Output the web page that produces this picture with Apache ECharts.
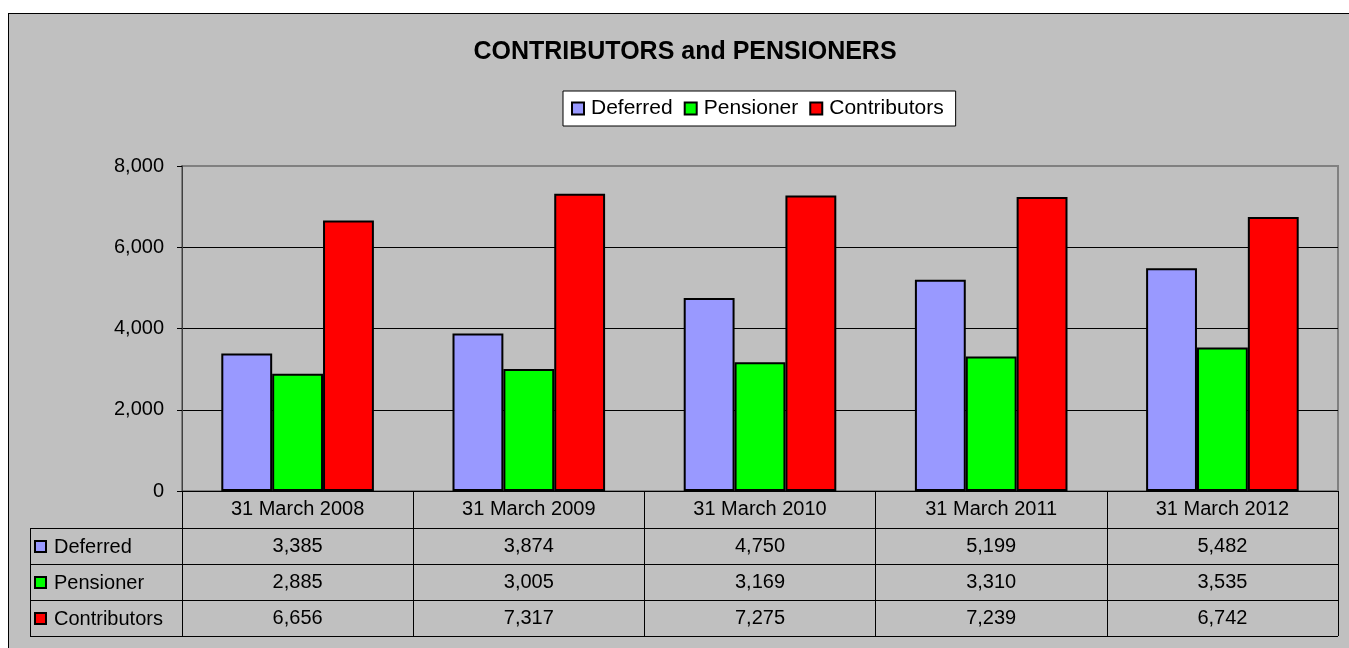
<!DOCTYPE html>
<html>
<head>
<meta charset="utf-8">
<script src="https://cdn.jsdelivr.net/npm/echarts@6/dist/echarts.min.js"></script>
<style>
  html, body { margin: 0; padding: 0; background: #ffffff; width: 1349px; height: 648px; overflow: hidden; }
  #bg { position: absolute; left: 8px; top: 13px; right: 0; bottom: 0; background: #C0C0C0; border-left: 1px solid #000; border-top: 1px solid #000; }
  #chart { position: absolute; left: 0; top: 0; width: 1349px; height: 648px; }
</style>
</head>
<body>
<div id="bg"></div>
<div id="chart"></div>
<script>
const categories = ['31 March 2008', '31 March 2009', '31 March 2010', '31 March 2011', '31 March 2012'];
const deferred = [3385, 3874, 4750, 5199, 5482];
const pensioner = [2885, 3005, 3169, 3310, 3535];
const contributors = [6656, 7317, 7275, 7239, 6742];
const seriesNames = ['Deferred', 'Pensioner', 'Contributors'];
const seriesColors = ['#9999FF', '#00FF00', '#FF0000'];
const yTicks = { min: 0, max: 8000, interval: 2000 };

const FONT = '"Liberation Sans", Arial, sans-serif';
const fmt = v => Number(v).toLocaleString('en-US');

const chart = echarts.init(document.getElementById('chart'), null, { renderer: 'canvas' });
const seriesData = [deferred, pensioner, contributors];

const option = {
  backgroundColor: 'transparent',
  animation: false,
  title: {
    text: 'CONTRIBUTORS and PENSIONERS',
    left: 680, top: 35, textAlign: 'center',
    textStyle: { fontFamily: FONT, fontSize: 25, fontWeight: 'bold', color: '#000' }
  },
  legend: {
    data: seriesNames,
    left: 563, top: 91,
    backgroundColor: '#ffffff', borderColor: '#000', borderWidth: 1,
    padding: [7, 12, 7, 8],
    itemGap: 11, itemWidth: 12, itemHeight: 12, icon: 'rect',
    itemStyle: { borderColor: '#000', borderWidth: 2 },
    textStyle: { fontFamily: FONT, fontSize: 21, color: '#000', padding: [0, 0, 0, 2] },
    selectedMode: false
  },
  grid: {
    left: 182, right: 11, top: 166, bottom: 157,
    show: true, backgroundColor: '#C0C0C0', borderColor: '#808080', borderWidth: 2
  },
  xAxis: {
    type: 'category', data: categories, boundaryGap: true,
    axisLine: { show: true, lineStyle: { color: '#000', width: 1 } },
    axisTick: { show: true, interval: 0, length: 145, inside: false, lineStyle: { color: '#000', width: 1 } },
    axisLabel: { interval: 0, margin: 8, fontFamily: FONT, fontSize: 20, color: '#000' },
    splitLine: { show: false }
  },
  yAxis: {
    type: 'value', min: yTicks.min, max: yTicks.max, interval: yTicks.interval,
    axisLine: { show: true, lineStyle: { color: '#404040', width: 1 } },
    axisTick: { show: true, length: 5, lineStyle: { color: '#000' } },
    axisLabel: { margin: 18, fontFamily: FONT, fontSize: 20, color: '#000', formatter: v => fmt(v) },
    splitLine: { show: true, showMaxLine: false, lineStyle: { color: '#000', width: 1 } }
  },
  series: seriesNames.map((name, i) => ({
    name, type: 'bar', data: seriesData[i],
    barGap: '0%', barCategoryGap: '34%',
    itemStyle: { color: seriesColors[i], borderColor: '#000', borderWidth: 2 }
  }))
};
chart.setOption(option);

// Data table below the axis
const rowTops = [528, 564, 600];
const rowH = 36;
const tableLeft = 30;
const gridRight = 1349 - 11;
const graphics = [];
[528, 564, 600, 636].forEach(y => {
  graphics.push({ type: 'line', shape: { x1: tableLeft, y1: y + 0.5, x2: gridRight, y2: y + 0.5 }, style: { stroke: '#000', lineWidth: 1 }, silent: true });
});
graphics.push({ type: 'line', shape: { x1: tableLeft + 0.5, y1: 528, x2: tableLeft + 0.5, y2: 636 }, style: { stroke: '#000', lineWidth: 1 }, silent: true });
seriesNames.forEach((name, r) => {
  const cy = rowTops[r] + rowH / 2;
  graphics.push({ type: 'rect', shape: { x: 35, y: cy - 5, width: 11, height: 11 }, style: { fill: seriesColors[r], stroke: '#000', lineWidth: 2 }, silent: true });
  graphics.push({ type: 'text', x: 54, y: cy + 1, style: { text: name, fontFamily: FONT, fontSize: 20, fill: '#000', textAlign: 'left', textVerticalAlign: 'middle' }, silent: true });
  seriesData[r].forEach((v, c) => {
    const px = chart.convertToPixel({ xAxisIndex: 0 }, categories[c]);
    graphics.push({ type: 'text', x: px, y: cy, style: { text: fmt(v), fontFamily: FONT, fontSize: 20, fill: '#000', textAlign: 'center', textVerticalAlign: 'middle' }, silent: true });
  });
});
chart.setOption({ graphic: graphics });
</script>
</body>
</html>
